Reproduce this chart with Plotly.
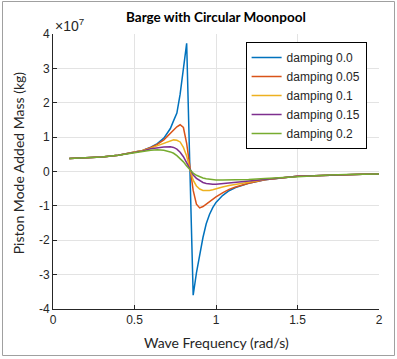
import plotly.graph_objects as go

# Wave frequency (rad/s)
freq = [0.1, 0.2, 0.3, 0.4, 0.5, 0.55, 0.6, 0.64, 0.68, 0.72, 0.74, 0.76, 0.78,
        0.80, 0.82, 0.84, 0.86, 0.88, 0.90, 0.92, 0.94, 0.96, 0.98, 1.0, 1.04,
        1.08, 1.12, 1.16, 1.2, 1.3, 1.4, 1.5, 1.6, 1.7, 1.8, 1.9, 2.0]

# Piston mode added mass, in units of 1e7 kg
damping_00 = [0.38, 0.39, 0.42, 0.47, 0.55, 0.61, 0.71, 0.81, 0.97, 1.25, 1.48, 1.70, 2.25,
              2.97, 3.73, 0.05, -3.60, -2.95, -2.38, -1.92, -1.52, -1.25, -1.05, -0.90, -0.70,
              -0.56, -0.47, -0.40, -0.34, -0.24, -0.18, -0.14, -0.12, -0.10, -0.09, -0.08, -0.07]
damping_005 = [0.38, 0.39, 0.42, 0.47, 0.55, 0.61, 0.70, 0.79, 0.92, 1.10, 1.20, 1.30, 1.36,
               1.28, 0.82, 0.12, -0.55, -0.95, -1.06, -1.02, -0.95, -0.88, -0.80, -0.74, -0.62,
               -0.52, -0.45, -0.39, -0.34, -0.24, -0.18, -0.14, -0.12, -0.10, -0.09, -0.08, -0.07]
damping_01 = [0.38, 0.39, 0.42, 0.47, 0.55, 0.61, 0.68, 0.75, 0.82, 0.89, 0.92, 0.91, 0.86,
              0.70, 0.45, 0.07, -0.25, -0.42, -0.51, -0.55, -0.56, -0.55, -0.53, -0.50, -0.45,
              -0.41, -0.37, -0.34, -0.31, -0.23, -0.18, -0.14, -0.12, -0.10, -0.09, -0.08, -0.07]
damping_015 = [0.38, 0.39, 0.42, 0.47, 0.55, 0.60, 0.66, 0.69, 0.71, 0.72, 0.70, 0.65, 0.56,
               0.43, 0.26, 0.05, -0.10, -0.20, -0.27, -0.32, -0.35, -0.37, -0.37, -0.37, -0.35,
               -0.33, -0.31, -0.29, -0.27, -0.22, -0.18, -0.14, -0.12, -0.10, -0.09, -0.08, -0.07]
damping_02 = [0.38, 0.39, 0.42, 0.47, 0.55, 0.59, 0.62, 0.63, 0.62, 0.57, 0.53, 0.46, 0.38,
              0.28, 0.16, 0.04, -0.05, -0.11, -0.16, -0.19, -0.21, -0.23, -0.24, -0.25, -0.25,
              -0.25, -0.24, -0.24, -0.23, -0.20, -0.17, -0.14, -0.12, -0.10, -0.09, -0.08, -0.07]

series_names = ["damping 0.0", "damping 0.05", "damping 0.1", "damping 0.15", "damping 0.2"]
series_values = [damping_00, damping_005, damping_01, damping_015, damping_02]
colors = ["#0072BD", "#D95319", "#EDB120", "#7E2F8E", "#77AC30"]

x_ticks = [0, 0.5, 1, 1.5, 2]
x_ticktext = ["0", "0.5", "1", "1.5", "2"]
y_ticks = [-4, -3, -2, -1, 0, 1, 2, 3, 4]
y_ticktext = ["-4", "-3", "-2", "-1", "0", "1", "2", "3", "4"]

fig = go.Figure()
for name, vals, c in zip(series_names, series_values, colors):
    fig.add_trace(go.Scatter(x=freq, y=vals, mode="lines", name=name,
                             line=dict(color=c, width=1.5)))

tick_font = dict(family="Liberation Sans, Arial", size=12, color="#262626")
label_font = dict(family="Lato, Open Sans", size=14, color="#262626")

fig.update_layout(
    width=397, height=359,
    margin=dict(l=53, r=18, t=34, b=50),
    paper_bgcolor="white", plot_bgcolor="white",
    showlegend=True,
    legend=dict(x=0.962, y=0.971, xanchor="right", yanchor="top",
                bgcolor="white", bordercolor="#000000", borderwidth=1,
                font=tick_font, tracegroupgap=0),
    xaxis=dict(range=[0, 2], tickvals=x_ticks, ticktext=x_ticktext,
               showline=True, linecolor="#262626", linewidth=1,
               ticks="inside", ticklen=4, tickcolor="#262626",
               showgrid=True, gridcolor="#e3e3e3", zeroline=False,
               tickfont=tick_font, fixedrange=True),
    yaxis=dict(range=[-4, 4], tickvals=y_ticks, ticktext=y_ticktext,
               showline=True, linecolor="#262626", linewidth=1,
               ticks="inside", ticklen=4, tickcolor="#262626",
               showgrid=True, gridcolor="#e3e3e3", zeroline=False,
               tickfont=tick_font, fixedrange=True),
    annotations=[
        dict(text="<b>Barge with Circular Moonpool</b>", xref="paper", yref="paper",
             x=0.5, y=1.0 + (34 - 17) / 275, xanchor="center", yanchor="middle",
             showarrow=False, font=dict(family="Lato, Open Sans", size=13.5, color="#000000")),
        dict(text="Wave Frequency (rad/s)", xref="paper", yref="paper",
             x=0.5, y=(309 - 342) / 275, xanchor="center", yanchor="middle",
             showarrow=False, font=label_font),
        dict(text="Piston Mode Added Mass (kg)", xref="paper", yref="paper",
             x=(18 - 53) / 326, y=0.53, xanchor="center", yanchor="middle",
             textangle=-90, showarrow=False, font=label_font),
        dict(text="×10<sup>7</sup>", xref="paper", yref="paper",
             x=(53 - 53) / 326, y=(309 - 25) / 275, xanchor="left", yanchor="middle",
             showarrow=False, font=dict(family="Liberation Sans, Arial", size=14, color="#262626")),
    ],
    shapes=[
        dict(type="rect", xref="paper", yref="paper",
             x0=(2.5 - 53) / 326, x1=(394.5 - 53) / 326,
             y0=(309 - 355.5) / 275, y1=(309 - 1.5) / 275,
             line=dict(color="#a0a0a0", width=1), fillcolor="rgba(0,0,0,0)", layer="below"),
    ],
)

fig.write_html("out.html", config={"displayModeBar": False},
               post_script="document.body.style.margin='0';document.body.style.overflow='hidden';")
